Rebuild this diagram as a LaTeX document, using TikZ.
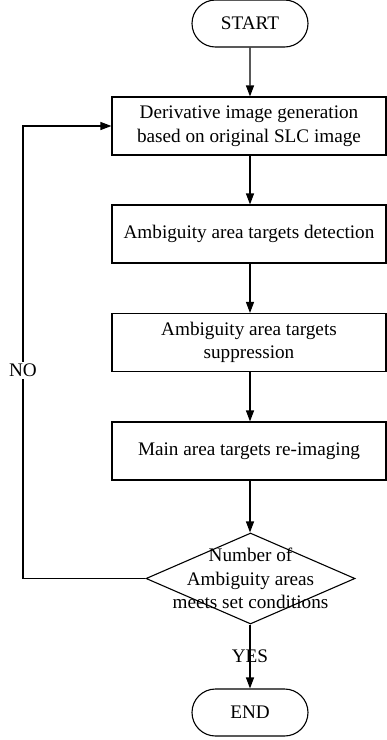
\documentclass[tikz,border=0pt]{standalone}
\usepackage{fontspec}
\setmainfont{Liberation Serif}
\usetikzlibrary{arrows.meta,shapes.geometric,shapes.misc}
\begin{document}
\begin{tikzpicture}[x=1pt,y=-1pt,
  every node/.style={font=\fontsize{19.2}{23.5}\selectfont},
  line/.style={line width=1.1pt},
  arr/.style={line, -{Triangle[length=11pt,width=8pt]}},
  term/.style={line, draw, rounded rectangle, minimum width=116pt, minimum height=47pt, inner sep=0pt},
  procbox/.style={line, draw, rectangle, minimum width=274pt, minimum height=58pt, inner sep=0pt, align=center},
  decis/.style={line, draw, diamond, minimum width=209pt, minimum height=91pt, inner sep=0pt}
]
\useasboundingbox (0,0) rectangle (387,740);
\node[term] (start) at (250,23.5) {START};
\node[procbox] (b1) at (249,126) {Derivative image generation\\based on original SLC image};
\node[procbox] (b2) at (249,234) {Ambiguity area targets detection};
\node[procbox] (b3) at (249,342.5) {Ambiguity area targets\\suppression};
\node[procbox] (b4) at (249,451) {Main area targets re-imaging};
\node[decis] (dec) at (250.5,578.5) {};
\node[align=center, inner sep=0pt] (dect) at (250.5,578.5) {Number of\\Ambiguity areas\\meets set conditions};
\node[term] (end) at (250,712.5) {END};
\coordinate (c1) at (23,578.5);
\coordinate (c2) at (23,126);
\draw[arr] (start) -- (b1.north -| start);
\draw[arr] (b1.south -| start) -- (b2.north -| start);
\draw[arr] (b2.south -| start) -- (b3.north -| start);
\draw[arr] (b3.south -| start) -- (b4.north -| start);
\draw[arr] (b4.south -| start) -- (dec.north -| start);
\draw[arr] (dec.south -| start) -- node[pos=0.5, inner sep=0pt] (yes) {YES} (end.north);
\draw[arr] (dec.west) -- (c1) -- node[pos=0.46, fill=white, inner sep=2pt] (no) {NO} (c2) -- (b1.west);
\end{tikzpicture}
\end{document}
